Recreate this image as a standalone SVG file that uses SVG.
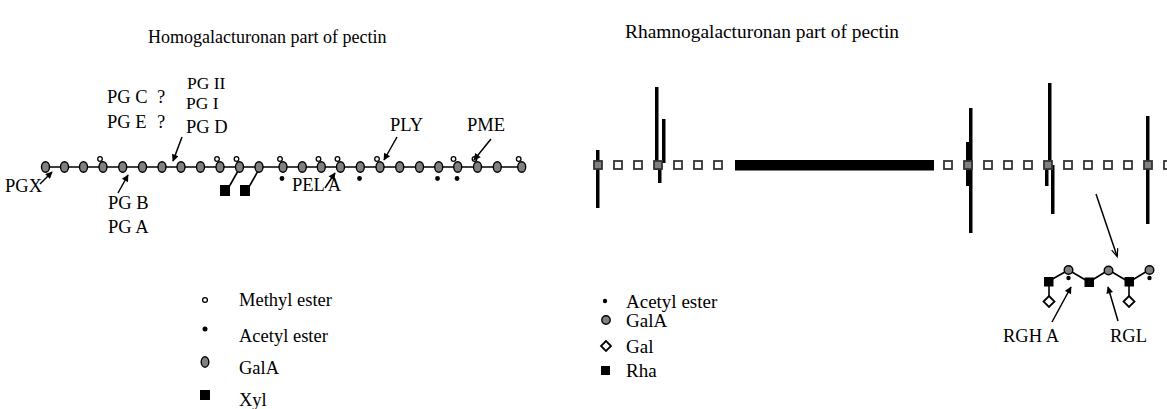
<svg xmlns="http://www.w3.org/2000/svg" width="1167" height="409" viewBox="0 0 1167 409">
  <defs>
    <style>
      text { font-family: "Liberation Serif", "Times New Roman", serif; fill: #000; }
      .title { font-size: 18px; }
      .title.r { font-size: 19.4px; }
      .lbl { font-size: 18.5px; }
      .lbl.s { font-size: 17.5px; }
      .leg { font-size: 18.5px; }
      .leg.r { font-size: 19px; }
      .gala { fill: #808080; stroke: #000; stroke-width: 1.4; }
      .me { fill: #fff; stroke: #000; stroke-width: 1.3; }
      .ac { fill: #000; }
      .xyl { fill: #000; }
      .chain { stroke: #000; stroke-width: 1.6; fill: none; }
      .arrow { stroke: #000; stroke-width: 1.5; fill: none; marker-end: url(#head); }
      .rsq { fill: #fff; stroke: #333; stroke-width: 1.8; }
      .rsq.g { fill: #808080; }
      .bar { fill: #000; }
      .gal { fill: #fff; stroke: #000; stroke-width: 1.8; }
    </style>
    <marker id="head" viewBox="0 0 10 10" refX="9" refY="5" markerWidth="10" markerHeight="7" markerUnits="userSpaceOnUse" orient="auto">
      <path d="M0,0 L10,5 L0,10 Z" fill="#000"/>
    </marker>
    <marker id="headOpen" viewBox="0 0 10 10" refX="9" refY="5" markerWidth="12" markerHeight="8" markerUnits="userSpaceOnUse" orient="auto">
      <path d="M0,1 L10,5 L0,9" fill="none" stroke="#000" stroke-width="1.5"/>
    </marker>
  </defs>

  <!-- Titles -->
  <text class="title" x="148" y="43">Homogalacturonan part of pectin</text>
  <text class="title r" x="625" y="38">Rhamnogalacturonan part of pectin</text>

  <!-- Homogalacturonan backbone -->
  <g id="hg-chain">
    <polyline class="chain" points="45.5,167 521.7,167"/>
    <!-- xylose side chains -->
    <line class="chain" x1="229.5" y1="186" x2="238" y2="171"/>
    <line class="chain" x1="249.5" y1="186" x2="258" y2="171"/>
    <rect class="xyl" x="220" y="185" width="10" height="11"/>
    <rect class="xyl" x="240" y="185" width="10" height="11"/>
    <!-- GalA residues -->
    <ellipse class="gala" cx="45.5" cy="167" rx="4" ry="5.3"/>
    <ellipse class="gala" cx="64.5" cy="167" rx="4" ry="5.3"/>
    <ellipse class="gala" cx="83.5" cy="167" rx="4" ry="5.3"/>
    <ellipse class="gala" cx="103" cy="167" rx="4" ry="5.3"/>
    <ellipse class="gala" cx="122.7" cy="167" rx="4" ry="5.3"/>
    <ellipse class="gala" cx="142.5" cy="167" rx="4" ry="5.3"/>
    <ellipse class="gala" cx="162" cy="167" rx="4" ry="5.3"/>
    <ellipse class="gala" cx="181" cy="167" rx="4" ry="5.3"/>
    <ellipse class="gala" cx="200.5" cy="167" rx="4" ry="5.3"/>
    <ellipse class="gala" cx="220" cy="167" rx="4" ry="5.3"/>
    <ellipse class="gala" cx="239.5" cy="167" rx="4" ry="5.3"/>
    <ellipse class="gala" cx="259" cy="167" rx="4" ry="5.3"/>
    <ellipse class="gala" cx="283" cy="167" rx="4" ry="5.3"/>
    <ellipse class="gala" cx="302.3" cy="167" rx="4" ry="5.3"/>
    <ellipse class="gala" cx="321.3" cy="167" rx="4" ry="5.3"/>
    <ellipse class="gala" cx="340.5" cy="167" rx="4" ry="5.3"/>
    <ellipse class="gala" cx="360.3" cy="167" rx="4" ry="5.3"/>
    <ellipse class="gala" cx="380" cy="167" rx="4" ry="5.3"/>
    <ellipse class="gala" cx="399.7" cy="167" rx="4" ry="5.3"/>
    <ellipse class="gala" cx="419.5" cy="167" rx="4" ry="5.3"/>
    <ellipse class="gala" cx="438.7" cy="167" rx="4" ry="5.3"/>
    <ellipse class="gala" cx="457.7" cy="167" rx="4" ry="5.3"/>
    <ellipse class="gala" cx="477.5" cy="167" rx="4" ry="5.3"/>
    <ellipse class="gala" cx="497.3" cy="167" rx="4" ry="5.3"/>
    <ellipse class="gala" cx="521.7" cy="167" rx="4" ry="5.3"/>
    <!-- methyl esters -->
    <circle class="me" cx="100" cy="159" r="2.3"/>
    <circle class="me" cx="217" cy="159" r="2.3"/>
    <circle class="me" cx="236.5" cy="159" r="2.3"/>
    <circle class="me" cx="280" cy="159" r="2.3"/>
    <circle class="me" cx="318.5" cy="159" r="2.3"/>
    <circle class="me" cx="337.5" cy="159" r="2.3"/>
    <circle class="me" cx="377" cy="159" r="2.3"/>
    <circle class="me" cx="453.5" cy="159" r="2.3"/>
    <circle class="me" cx="474.5" cy="159" r="2.3"/>
    <circle class="me" cx="518.7" cy="159" r="2.3"/>
    <!-- acetyl esters -->
    <circle class="ac" cx="282" cy="178.5" r="2.4"/>
    <circle class="ac" cx="359.5" cy="178.5" r="2.4"/>
    <circle class="ac" cx="437.5" cy="178.5" r="2.4"/>
    <circle class="ac" cx="457" cy="178.5" r="2.4"/>
  </g>

  <!-- Enzyme labels, homogalacturonan -->
  <g id="hg-enzymes">
    <text class="lbl" x="5" y="192">PGX</text>
    <text class="lbl" x="108" y="209">PG B</text>
    <text class="lbl" x="108" y="233">PG A</text>
    <text class="lbl" x="107" y="103">PG C</text>
    <text class="lbl" x="157" y="103">?</text>
    <text class="lbl" x="107" y="128">PG E</text>
    <text class="lbl" x="157" y="128">?</text>
    <text class="lbl s" x="187" y="88.5">PG II</text>
    <text class="lbl s" x="186" y="108.5">PG I</text>
    <text class="lbl" x="186" y="133">PG D</text>
    <text class="lbl" x="292" y="191">PEL A</text>
    <text class="lbl" x="390" y="131">PLY</text>
    <text class="lbl" x="467" y="131">PME</text>
  </g>

  <!-- Connectors -->
  <g id="connectors">
    <line class="arrow" x1="40" y1="184" x2="52" y2="172"/>
    <line class="arrow" x1="118" y1="193" x2="128" y2="175"/>
    <line class="arrow" x1="182" y1="137" x2="173" y2="161"/>
    <line class="arrow" x1="325" y1="188" x2="335" y2="173"/>
    <line class="arrow" x1="397" y1="137" x2="384" y2="160"/>
    <line class="arrow" x1="491" y1="139" x2="474" y2="160"/>
    <line class="arrow" x1="1096" y1="194" x2="1117" y2="256" style="marker-end:url(#headOpen)"/>
    <line class="arrow" x1="1052" y1="322" x2="1071" y2="287"/>
    <line class="arrow" x1="1118" y1="321" x2="1108" y2="287"/>
  </g>

  <!-- Rhamnogalacturonan backbone -->
  <g id="rg-chain">
    <!-- side chains -->
    <rect class="bar" x="596" y="150" width="3.5" height="58"/>
    <rect class="bar" x="655" y="87" width="3.5" height="83"/>
    <rect class="bar" x="658" y="165" width="3.5" height="18"/>
    <rect class="bar" x="662" y="119" width="3.5" height="44"/>
    <rect class="bar" x="969" y="108" width="3.5" height="125"/>
    <rect class="bar" x="966" y="142" width="3.5" height="44"/>
    <rect class="bar" x="1048" y="83" width="3.5" height="82"/>
    <rect class="bar" x="1045" y="165" width="3.5" height="21"/>
    <rect class="bar" x="1051" y="165" width="3.5" height="49"/>
    <rect class="bar" x="1146" y="116" width="3.5" height="108"/>
    <!-- homogalacturonan stretch -->
    <rect class="bar" x="735" y="160" width="199" height="10.5"/>
    <!-- residues -->
    <rect class="rsq g" x="594" y="161" width="8" height="8"/>
    <rect class="rsq" x="614" y="161" width="8" height="8"/>
    <rect class="rsq" x="634" y="161" width="8" height="8"/>
    <rect class="rsq g" x="654" y="161" width="8" height="8"/>
    <rect class="rsq" x="674" y="161" width="8" height="8"/>
    <rect class="rsq" x="694" y="161" width="8" height="8"/>
    <rect class="rsq" x="714" y="161" width="8" height="8"/>
    <rect class="rsq" x="944" y="161" width="8" height="8"/>
    <rect class="rsq g" x="964" y="161" width="8" height="8"/>
    <rect class="rsq" x="984" y="161" width="8" height="8"/>
    <rect class="rsq" x="1004" y="161" width="8" height="8"/>
    <rect class="rsq" x="1024" y="161" width="8" height="8"/>
    <rect class="rsq g" x="1044" y="161" width="8" height="8"/>
    <rect class="rsq" x="1064" y="161" width="8" height="8"/>
    <rect class="rsq" x="1084" y="161" width="8" height="8"/>
    <rect class="rsq" x="1104" y="161" width="8" height="8"/>
    <rect class="rsq" x="1124" y="161" width="8" height="8"/>
    <rect class="rsq g" x="1144" y="161" width="8" height="8"/>
    <rect class="rsq" x="1164" y="161" width="8" height="8"/>
  </g>

  <!-- Rhamnogalacturonan fragment detail -->
  <g id="rg-detail">
    <polyline class="chain" points="1049,281 1068.5,270 1089,282 1108.5,270 1129,282 1149,270"/>
    <line class="chain" x1="1049" y1="282" x2="1049" y2="297"/>
    <line class="chain" x1="1129" y1="282" x2="1129" y2="297"/>
    <rect class="xyl" x="1044" y="277" width="9.5" height="9.5"/>
    <rect class="xyl" x="1084.5" y="277.5" width="9.5" height="9.5"/>
    <rect class="xyl" x="1124.5" y="277" width="9.5" height="9.5"/>
    <circle class="gala" cx="1068.5" cy="270" r="4.3"/>
    <circle class="gala" cx="1108.5" cy="270.5" r="4.3"/>
    <circle class="gala" cx="1149.5" cy="270" r="4.3"/>
    <circle class="ac" cx="1068.5" cy="278" r="2.2"/>
    <circle class="ac" cx="1149.5" cy="278" r="2.2"/>
    <path class="gal" d="M1049,296 L1054.5,301.5 L1049,307 L1043.5,301.5 Z"/>
    <path class="gal" d="M1129,296 L1134.5,301.5 L1129,307 L1123.5,301.5 Z"/>
    <text class="lbl" x="1003" y="342">RGH A</text>
    <text class="lbl" x="1110" y="342">RGL</text>
  </g>

  <!-- Legend, homogalacturonan -->
  <g id="legend-hg">
    <circle class="me" cx="205" cy="300" r="2.4"/>
    <text class="leg" x="239" y="306">Methyl ester</text>
    <circle class="ac" cx="205" cy="329" r="2.5"/>
    <text class="leg" x="239" y="342">Acetyl ester</text>
    <ellipse class="gala" cx="205" cy="362" rx="3.8" ry="5.2"/>
    <text class="leg" x="239" y="374">GalA</text>
    <rect class="xyl" x="200" y="390" width="10" height="10"/>
    <text class="leg" x="239" y="406">Xyl</text>
  </g>

  <!-- Legend, rhamnogalacturonan -->
  <g id="legend-rg">
    <circle class="ac" cx="605" cy="301" r="2.2"/>
    <text class="leg r" x="626" y="307.5">Acetyl ester</text>
    <circle class="gala" cx="606" cy="320" r="4.2"/>
    <text class="leg r" x="626" y="326.5">GalA</text>
    <path class="gal" d="M606,341 L611,346 L606,351 L601,346 Z"/>
    <text class="leg r" x="626" y="352.5">Gal</text>
    <rect class="xyl" x="601" y="366" width="9" height="9"/>
    <text class="leg r" x="626" y="376.5">Rha</text>
  </g>
</svg>
